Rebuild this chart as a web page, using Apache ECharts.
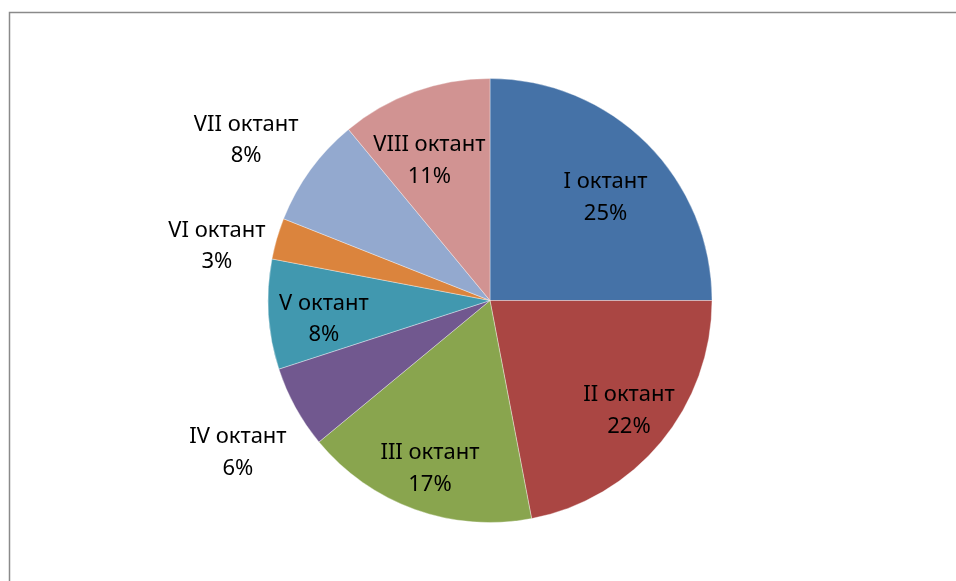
<!DOCTYPE html>
<html>
<head>
<meta charset="utf-8">
<script src="https://cdn.jsdelivr.net/npm/echarts@6/dist/echarts.min.js"></script>
<style>
html,body{margin:0;padding:0;background:#fff;}
#chart{width:956px;height:581px;}
</style>
</head>
<body>
<div id="chart"></div>
<script>
var categories = ['I октант','II октант','III октант','IV октант','V октант','VI октант','VII октант','VIII октант'];
var values = [25, 22, 17, 6, 8, 3, 8, 11];
var colors = ['#4572A7','#AA4643','#89A54E','#71588F','#4198AF','#DB843D','#93A9CF','#D19392'];
// label placement style: radial fraction of radius and angular nudge (degrees)
var labelRadiusFrac = [0.697, 0.799, 0.804, 1.326, 0.753, 1.254, 1.314, 0.687];
var labelAngleNudge = [3.3, -1.2, -0.15, -2.3, -2.9, -5.0, -2.7, -3.6];

var CENTER = [490, 300.5];
var RADIUS = 222;

var chart = echarts.init(document.getElementById('chart'));
var total = values.reduce(function(a,b){return a+b;},0);

function midAngle(i){
  var before = 0;
  for (var k=0;k<i;k++) before += values[k];
  return (before + values[i]/2) / total * 2 * Math.PI + labelAngleNudge[i] * Math.PI / 180;
}

chart.setOption({
  animation: false,
  backgroundColor: '#fff',
  graphic: [{
    type: 'rect',
    shape: {x: 9.5, y: 12.5, width: 1200, height: 1200},
    style: {fill: 'none', stroke: '#8a8a8a', lineWidth: 1.5},
    silent: true
  }],
  series: [{
    type: 'pie',
    center: CENTER,
    radius: RADIUS,
    startAngle: 90,
    clockwise: true,
    data: categories.map(function(n,i){
      return {name: n, value: values[i], itemStyle: {color: colors[i]}};
    }),
    itemStyle: {borderColor: 'rgba(255,255,255,0.6)', borderWidth: 0.6},
    label: {
      show: true,
      position: 'inside',
      formatter: '{b}\n{c}%',
      fontFamily: 'Noto Sans',
      fontSize: 22,
      lineHeight: 31.5,
      color: '#000',
      align: 'center'
    },
    labelLine: {show: false},
    labelLayout: function(p){
      var a = midAngle(p.dataIndex);
      var r = RADIUS * labelRadiusFrac[p.dataIndex];
      return {
        x: CENTER[0] + r*Math.sin(a),
        y: CENTER[1] - r*Math.cos(a),
        align: 'center',
        verticalAlign: 'middle'
      };
    }
  }]
});
</script>
</body>
</html>
